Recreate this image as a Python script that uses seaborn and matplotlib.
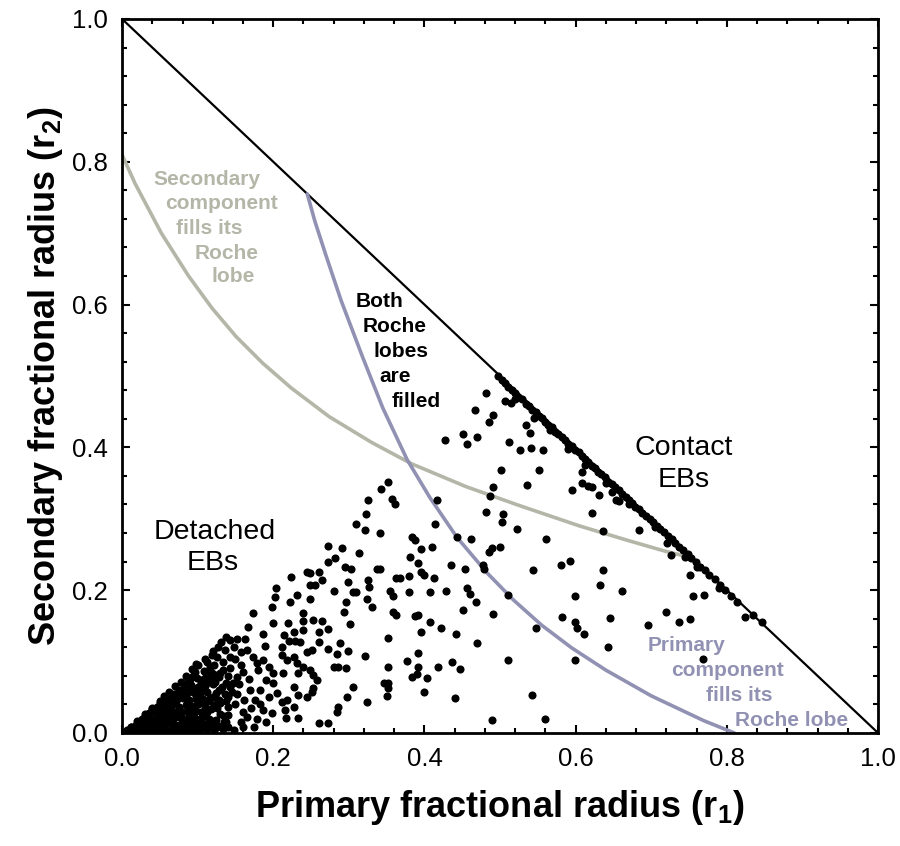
import seaborn as sns
import matplotlib.pyplot as plt
import pandas as pd
from matplotlib.ticker import MultipleLocator

# Roche-lobe limits (r1, r2)
sec_r1 = [0.0, 0.017, 0.052, 0.088, 0.119, 0.151, 0.186, 0.224, 0.274, 0.330, 0.383,
          0.455, 0.527, 0.605, 0.668, 0.717, 0.755]
sec_r2 = [0.810, 0.770, 0.700, 0.640, 0.595, 0.555, 0.518, 0.483, 0.443, 0.407, 0.377,
          0.345, 0.318, 0.290, 0.270, 0.255, 0.245]
pri_r1 = [0.245, 0.255, 0.270, 0.290, 0.318, 0.345, 0.377, 0.407, 0.443, 0.483, 0.518,
          0.555, 0.595, 0.640, 0.700, 0.770, 0.810]
pri_r2 = [0.755, 0.717, 0.668, 0.605, 0.527, 0.455, 0.383, 0.330, 0.274, 0.224, 0.186,
          0.151, 0.119, 0.088, 0.052, 0.017, 0.0]
contact_r1 = [0.0, 1.0]
contact_r2 = [1.0, 0.0]

# dense clump of small-radius systems near the origin
dense_pts = [
    (0.009, 0.003), (0.015, 0.005), (0.021, 0.004), (0.027, 0.006), (0.034, 0.003), (0.040, 0.005),
    (0.047, 0.004), (0.053, 0.006), (0.060, 0.003), (0.066, 0.005), (0.073, 0.004), (0.080, 0.006),
    (0.088, 0.003), (0.095, 0.005), (0.103, 0.004), (0.112, 0.006), (0.121, 0.004), (0.133, 0.005),
    (0.148, 0.004),
    (0.018, 0.011), (0.024, 0.013), (0.031, 0.012), (0.038, 0.014), (0.044, 0.011), (0.051, 0.013),
    (0.058, 0.012), (0.064, 0.014), (0.071, 0.011), (0.078, 0.013), (0.086, 0.012), (0.093, 0.014),
    (0.101, 0.011), (0.109, 0.013), (0.118, 0.012), (0.127, 0.010),
    (0.026, 0.020), (0.033, 0.021), (0.040, 0.019), (0.047, 0.022), (0.054, 0.020), (0.061, 0.021),
    (0.068, 0.019), (0.075, 0.022), (0.082, 0.020), (0.090, 0.021), (0.098, 0.019), (0.106, 0.022),
    (0.115, 0.020), (0.124, 0.018),
    (0.036, 0.028), (0.043, 0.030), (0.050, 0.029), (0.057, 0.031), (0.064, 0.028), (0.071, 0.030),
    (0.079, 0.029), (0.087, 0.031), (0.095, 0.028), (0.104, 0.030), (0.113, 0.029), (0.130, 0.027),
    (0.046, 0.037), (0.053, 0.039), (0.060, 0.038), (0.068, 0.040), (0.076, 0.037), (0.084, 0.039),
    (0.092, 0.038), (0.101, 0.040), (0.110, 0.037), (0.121, 0.039), (0.140, 0.036),
    (0.058, 0.046), (0.065, 0.048), (0.073, 0.047), (0.081, 0.049), (0.089, 0.046), (0.098, 0.048),
    (0.107, 0.047), (0.117, 0.049), (0.128, 0.046),
    (0.069, 0.055), (0.077, 0.057), (0.086, 0.056), (0.094, 0.058), (0.103, 0.055), (0.113, 0.057),
    (0.124, 0.056),
    (0.082, 0.065), (0.091, 0.067), (0.100, 0.064), (0.110, 0.066), (0.120, 0.068), (0.132, 0.065),
    (0.090, 0.075), (0.099, 0.077), (0.109, 0.076), (0.118, 0.074), (0.128, 0.078),
    (0.097, 0.085), (0.108, 0.087), (0.119, 0.084), (0.133, 0.088),
    (0.004, 0.002), (0.006, 0.004), (0.012, 0.008), (0.020, 0.017), (0.030, 0.026), (0.040, 0.035),
    (0.050, 0.045), (0.055, 0.052), (0.062, 0.058), (0.070, 0.066), (0.078, 0.072), (0.062, 0.040),
    (0.055, 0.025), (0.045, 0.018), (0.035, 0.010), (0.065, 0.032), (0.072, 0.045), (0.085, 0.050),
    (0.095, 0.062), (0.105, 0.060), (0.115, 0.045), (0.125, 0.035), (0.135, 0.015), (0.140, 0.025),
    (0.085, 0.080), (0.092, 0.090), (0.098, 0.097), (0.112, 0.100), (0.122, 0.095), (0.125, 0.106),
    (0.133, 0.100), (0.140, 0.080), (0.147, 0.070), (0.155, 0.068), (0.160, 0.085), (0.158, 0.095),
    (0.150, 0.104), (0.157, 0.113), (0.148, 0.120), (0.120, 0.115), (0.131, 0.128), (0.110, 0.104),
    (0.123, 0.072), (0.137, 0.045), (0.145, 0.058), (0.150, 0.040), (0.160, 0.030), (0.157, 0.016),
    (0.165, 0.022), (0.170, 0.035), (0.175, 0.008), (0.168, 0.075), (0.182, 0.060), (0.183, 0.040),
    (0.190, 0.015), (0.178, 0.020),
    (0.012, 0.008), (0.030, 0.008), (0.050, 0.009), (0.070, 0.008), (0.090, 0.009), (0.108, 0.008),
    (0.125, 0.008), (0.140, 0.009), (0.160, 0.008),
    (0.022, 0.016), (0.042, 0.016), (0.062, 0.017), (0.082, 0.016), (0.100, 0.016), (0.120, 0.017),
    (0.138, 0.016),
    (0.030, 0.024), (0.050, 0.024), (0.070, 0.025), (0.088, 0.024), (0.110, 0.024), (0.135, 0.024),
    (0.040, 0.033), (0.058, 0.033), (0.076, 0.034), (0.097, 0.033), (0.118, 0.033),
    (0.050, 0.042), (0.068, 0.042), (0.087, 0.043), (0.108, 0.042), (0.130, 0.042),
    (0.060, 0.051), (0.080, 0.051), (0.098, 0.052), (0.120, 0.051), (0.140, 0.051),
    (0.075, 0.060), (0.090, 0.061), (0.108, 0.060), (0.128, 0.060),
    (0.086, 0.070), (0.104, 0.070), (0.115, 0.071), (0.138, 0.070),
    (0.094, 0.080), (0.113, 0.080), (0.124, 0.081),
]

# scattered detached systems
detached_pts = [
    (0.223, 0.218), (0.244, 0.226), (0.249, 0.224), (0.260, 0.225), (0.265, 0.214), (0.255, 0.207),
    (0.249, 0.207), (0.280, 0.199), (0.273, 0.262), (0.273, 0.240), (0.204, 0.203), (0.202, 0.190),
    (0.231, 0.193), (0.248, 0.187), (0.222, 0.184), (0.199, 0.176), (0.239, 0.168), (0.173, 0.168),
    (0.167, 0.149), (0.200, 0.154), (0.220, 0.154), (0.227, 0.142), (0.240, 0.157), (0.252, 0.158),
    (0.264, 0.157), (0.240, 0.144), (0.260, 0.142), (0.273, 0.145), (0.187, 0.139), (0.214, 0.137),
    (0.221, 0.129), (0.229, 0.129), (0.236, 0.128), (0.260, 0.128), (0.138, 0.135), (0.143, 0.130),
    (0.152, 0.131), (0.163, 0.132), (0.189, 0.122), (0.211, 0.121), (0.244, 0.114), (0.251, 0.116),
    (0.273, 0.117), (0.165, 0.116), (0.173, 0.107), (0.178, 0.098), (0.187, 0.102), (0.194, 0.093),
    (0.180, 0.088), (0.119, 0.109), (0.116, 0.093), (0.127, 0.121), (0.136, 0.116), (0.143, 0.107),
    (0.101, 0.095), (0.110, 0.086), (0.105, 0.074), (0.130, 0.084), (0.143, 0.091), (0.152, 0.079),
    (0.211, 0.109), (0.218, 0.102), (0.227, 0.107), (0.231, 0.098), (0.240, 0.093), (0.233, 0.084),
    (0.249, 0.088), (0.253, 0.081), (0.213, 0.084), (0.200, 0.084), (0.191, 0.074), (0.297, 0.051),
    (0.258, 0.074), (0.253, 0.063), (0.244, 0.051), (0.251, 0.058), (0.227, 0.065), (0.233, 0.053),
    (0.218, 0.046), (0.227, 0.037), (0.211, 0.044), (0.200, 0.070), (0.205, 0.056), (0.194, 0.051),
    (0.187, 0.032), (0.198, 0.028), (0.216, 0.032), (0.233, 0.021), (0.217, 0.021), (0.260, 0.014),
    (0.273, 0.014), (0.169, 0.060), (0.176, 0.046), (0.161, 0.046), (0.152, 0.055), (0.143, 0.065),
    (0.136, 0.055), (0.127, 0.046),
    (0.326, 0.326), (0.361, 0.321), (0.323, 0.306), (0.310, 0.293), (0.321, 0.284), (0.341, 0.280),
    (0.313, 0.252), (0.291, 0.259), (0.282, 0.245), (0.383, 0.275), (0.387, 0.270), (0.396, 0.257),
    (0.410, 0.260), (0.381, 0.247), (0.392, 0.238), (0.295, 0.233), (0.303, 0.230), (0.337, 0.230),
    (0.341, 0.229), (0.363, 0.217), (0.368, 0.217), (0.379, 0.220), (0.395, 0.226), (0.399, 0.221),
    (0.412, 0.217), (0.299, 0.212), (0.326, 0.214), (0.327, 0.204), (0.306, 0.197), (0.310, 0.197),
    (0.354, 0.199), (0.358, 0.192), (0.380, 0.198), (0.407, 0.197), (0.429, 0.199), (0.456, 0.203),
    (0.460, 0.194), (0.468, 0.183), (0.296, 0.184), (0.324, 0.187), (0.330, 0.176), (0.293, 0.170),
    (0.358, 0.170), (0.363, 0.165), (0.388, 0.164), (0.392, 0.165), (0.408, 0.155), (0.422, 0.147),
    (0.451, 0.172), (0.491, 0.167), (0.301, 0.152), (0.396, 0.141), (0.442, 0.139), (0.469, 0.126),
    (0.352, 0.133), (0.288, 0.126), (0.299, 0.115), (0.284, 0.110), (0.321, 0.108), (0.392, 0.112),
    (0.377, 0.101), (0.437, 0.099), (0.280, 0.093), (0.286, 0.093), (0.296, 0.091), (0.352, 0.092),
    (0.392, 0.093), (0.418, 0.092), (0.447, 0.090), (0.383, 0.079), (0.390, 0.082), (0.404, 0.077),
    (0.346, 0.070), (0.352, 0.070), (0.306, 0.065), (0.352, 0.063), (0.351, 0.052), (0.399, 0.058),
    (0.440, 0.049), (0.324, 0.044), (0.286, 0.037), (0.284, 0.030), (0.490, 0.018), (0.560, 0.020),
    (0.542, 0.053), (0.511, 0.102), (0.548, 0.147), (0.582, 0.162), (0.599, 0.156), (0.602, 0.147),
    (0.599, 0.192), (0.599, 0.102), (0.544, 0.228), (0.580, 0.235), (0.592, 0.241), (0.561, 0.272),
    (0.523, 0.286), (0.511, 0.193), (0.478, 0.235), (0.479, 0.229), (0.486, 0.254), (0.490, 0.259),
    (0.500, 0.261), (0.462, 0.271), (0.443, 0.274), (0.435, 0.235), (0.454, 0.229), (0.481, 0.309),
    (0.504, 0.307), (0.502, 0.295), (0.414, 0.293),
    (0.482, 0.476), (0.507, 0.465), (0.515, 0.462), (0.467, 0.452), (0.491, 0.445), (0.486, 0.435),
    (0.534, 0.431), (0.540, 0.420), (0.451, 0.419), (0.469, 0.415), (0.427, 0.410), (0.456, 0.405),
    (0.512, 0.408), (0.526, 0.397), (0.541, 0.399), (0.557, 0.397), (0.501, 0.368), (0.552, 0.368),
    (0.535, 0.347), (0.595, 0.340), (0.491, 0.345), (0.487, 0.332), (0.352, 0.351), (0.343, 0.341),
    (0.357, 0.327), (0.417, 0.326), (0.636, 0.283), (0.622, 0.308), (0.684, 0.284), (0.721, 0.266),
    (0.726, 0.249), (0.631, 0.333), (0.609, 0.366), (0.609, 0.350), (0.617, 0.346), (0.621, 0.345),
    (0.653, 0.326), (0.648, 0.338), (0.658, 0.325),
    (0.611, 0.139), (0.646, 0.161), (0.643, 0.121), (0.696, 0.151), (0.720, 0.170), (0.737, 0.155),
    (0.751, 0.159), (0.768, 0.103), (0.636, 0.228), (0.632, 0.207), (0.661, 0.199), (0.751, 0.221),
    (0.755, 0.192), (0.770, 0.193),
]

# systems piled up along the contact limit r1 + r2 = 1
contact_pts = [
    (0.497, 0.500), (0.503, 0.494), (0.507, 0.490), (0.511, 0.484), (0.516, 0.481), (0.520, 0.476),
    (0.524, 0.471), (0.529, 0.468), (0.534, 0.461), (0.538, 0.458), (0.542, 0.452), (0.547, 0.450),
    (0.551, 0.444), (0.556, 0.441), (0.560, 0.436), (0.564, 0.431), (0.569, 0.428), (0.573, 0.422),
    (0.577, 0.419), (0.582, 0.414), (0.586, 0.410), (0.590, 0.405), (0.595, 0.402), (0.599, 0.396),
    (0.604, 0.393), (0.608, 0.388), (0.612, 0.384), (0.617, 0.380), (0.621, 0.374), (0.626, 0.371),
    (0.630, 0.366), (0.634, 0.362), (0.639, 0.358), (0.643, 0.352), (0.648, 0.349), (0.652, 0.344),
    (0.657, 0.340), (0.661, 0.335), (0.666, 0.331), (0.670, 0.326), (0.675, 0.322), (0.679, 0.317),
    (0.684, 0.313), (0.688, 0.308), (0.693, 0.304), (0.698, 0.299), (0.702, 0.295), (0.707, 0.290),
    (0.712, 0.285), (0.717, 0.281), (0.722, 0.276), (0.727, 0.271), (0.732, 0.266), (0.737, 0.261),
    (0.742, 0.256), (0.748, 0.250), (0.753, 0.245), (0.759, 0.240), (0.765, 0.233), (0.771, 0.228),
    (0.777, 0.221), (0.784, 0.215), (0.791, 0.207), (0.798, 0.200), (0.806, 0.192), (0.814, 0.184),
    (0.520, 0.468), (0.545, 0.441), (0.566, 0.424), (0.590, 0.398), (0.612, 0.376), (0.640, 0.350),
    (0.670, 0.320), (0.705, 0.288), (0.745, 0.247), (0.790, 0.203), (0.760, 0.232),
    (0.824, 0.162), (0.835, 0.165), (0.846, 0.156),
]

all_pts = dense_pts + detached_pts + contact_pts
df = pd.DataFrame(all_pts, columns=["r1", "r2"])

sns.set_style("ticks")
plt.rcParams["font.family"] = ["Liberation Sans", "DejaVu Sans"]
plt.rcParams["text.color"] = "black"
plt.rcParams["axes.labelcolor"] = "black"
plt.rcParams["axes.edgecolor"] = "black"
plt.rcParams["xtick.color"] = "black"
plt.rcParams["ytick.color"] = "black"

fig = plt.figure(figsize=(9, 8.46), dpi=100)
ax = fig.add_axes([0.1356, 0.1336, 0.84, 0.844])

grey = "#b4b6a8"
lilac = "#9191b3"

sns.lineplot(x=contact_r1, y=contact_r2, sort=False, color="black", linewidth=1.6, ax=ax)
sns.lineplot(x=sec_r1, y=sec_r2, sort=False, color=grey, linewidth=2.6, ax=ax)
sns.lineplot(x=pri_r1, y=pri_r2, sort=False, color=lilac, linewidth=2.6, ax=ax)
sns.scatterplot(data=df, x="r1", y="r2", color="black", s=34, linewidth=0, ax=ax, zorder=3)

ax.set_xlim(0, 1)
ax.set_ylim(0, 1)
ax.xaxis.set_major_locator(MultipleLocator(0.2))
ax.yaxis.set_major_locator(MultipleLocator(0.2))
ax.xaxis.set_minor_locator(MultipleLocator(0.04))
ax.yaxis.set_minor_locator(MultipleLocator(0.04))
ax.tick_params(which="both", direction="in", top=True, right=True, width=1.5,
               labelsize=18.5, pad=10)
ax.tick_params(which="major", length=6)
ax.tick_params(which="minor", length=3.5)
for sp in ax.spines.values():
    sp.set_linewidth(2)
    sp.set_visible(True)

ax.set_xlabel("Primary fractional radius (r$_{\\mathregular{1}}$)", fontsize=26,
              fontweight="bold", labelpad=12)
ax.set_ylabel("Secondary fractional radius (r$_{\\mathregular{2}}$)", fontsize=26,
              fontweight="bold", labelpad=5)

# region labels
txt = dict(ha="center", va="center", fontweight="bold", fontsize=15)
for s, x, y in [("Secondary", 0.112, 0.775), ("component", 0.132, 0.742), ("fills its", 0.116, 0.707),
                ("Roche", 0.138, 0.672), ("lobe", 0.147, 0.639)]:
    ax.text(x, y, s, color=grey, **txt)
for s, x, y in [("Both", 0.341, 0.604), ("Roche", 0.361, 0.569), ("lobes", 0.369, 0.534),
                ("are", 0.361, 0.499), ("filled", 0.389, 0.464)]:
    ax.text(x, y, s, color="black", **txt)
for s, x, y in [("Primary", 0.747, 0.122), ("component", 0.801, 0.088), ("fills its", 0.817, 0.053),
                ("Roche lobe", 0.886, 0.018)]:
    ax.text(x, y, s, color=lilac, **txt)
for s, x, y in [("Detached", 0.122, 0.282), ("EBs", 0.120, 0.238),
                ("Contact", 0.743, 0.399), ("EBs", 0.743, 0.354)]:
    ax.text(x, y, s, ha="center", va="center", fontsize=20.5, color="black")

fig.savefig("out.png", dpi=100)
